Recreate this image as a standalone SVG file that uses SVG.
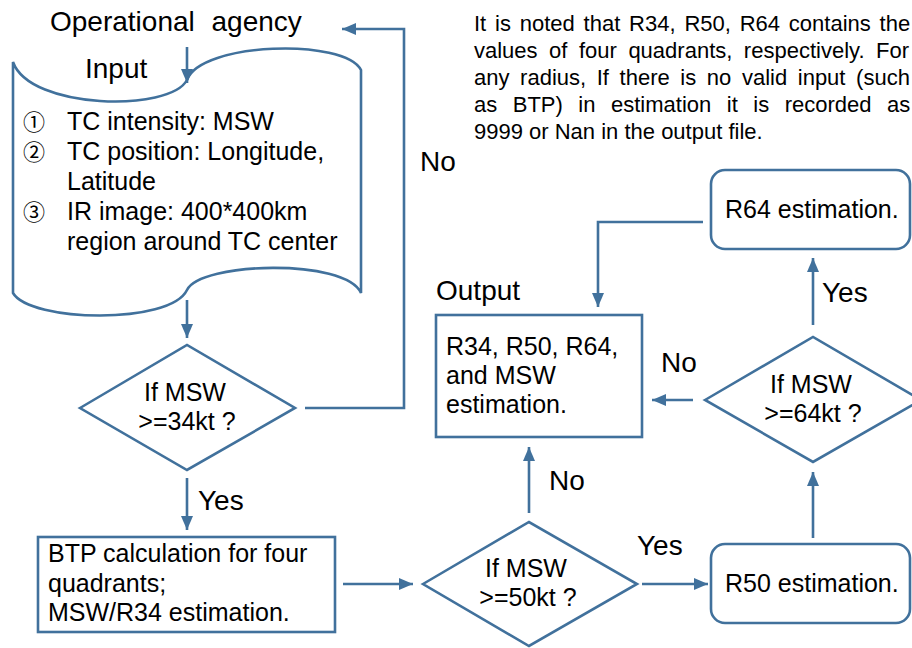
<svg xmlns="http://www.w3.org/2000/svg" width="912" height="648" viewBox="0 0 912 648">
<defs>
<style>
.s{fill:none;stroke:#41719C;stroke-width:2.6}
.b{fill:#fff;stroke:#41719C;stroke-width:2.6}
.c{fill:none;stroke:#41719C;stroke-width:2.6;marker-end:url(#ah)}
text{font-family:"Liberation Sans",Arial,sans-serif;fill:#000}
.big{font-size:28px}
.t{font-size:25px}
.l{font-size:25px}
.n{font-size:22px}
.cn{font-family:"Noto Sans CJK JP","DejaVu Sans",sans-serif;font-size:22px}
</style>
<marker id="ah" viewBox="0 0 14 12" refX="14" refY="6" markerWidth="14" markerHeight="12" markerUnits="userSpaceOnUse" orient="auto">
<path d="M0,0 L14,6 L0,12 z" fill="#41719C"/>
</marker>
</defs>
<rect width="912" height="648" fill="#fff"/>

<g id="agency">
<text class="big" x="50" y="31" word-spacing="9">Operational agency</text>
</g>

<g id="note">
<text class="n" x="474" y="31" word-spacing="2.7">It is noted that R34, R50, R64 contains the</text>
<text class="n" x="474" y="58" word-spacing="5.4">values of four quadrants, respectively. For</text>
<text class="n" x="474" y="85" word-spacing="4.5">any radius, If there is no valid input (such</text>
<text class="n" x="474" y="112" word-spacing="9.4">as BTP) in estimation it is recorded as</text>
<text class="n" x="474" y="139">9999 or Nan in the output file.</text>
</g>

<g id="input">
<path class="b" d="M13,62 C30,110 170,112 187,80 C200,42 345,38 361,70 L361,293 C345,258 200,262 187,290 C170,325 30,322 13,293 Z"/>
<text class="big" x="85" y="78">Input</text>
<text class="cn" x="23" y="130">①</text>
<text class="l" x="67" y="130">TC intensity: MSW</text>
<text class="cn" x="23" y="160">②</text>
<text class="l" x="67" y="160">TC position: Longitude,</text>
<text class="l" x="67" y="190">Latitude</text>
<text class="cn" x="23" y="220">③</text>
<text class="l" x="67" y="220">IR image: 400*400km</text>
<text class="l" x="67" y="250">region around TC center</text>
</g>

<g id="d34">
<polygon class="b" points="80,408 187,345 295,408 187,470"/>
<text class="t" x="185" y="401" text-anchor="middle">If MSW</text>
<text class="t" x="187" y="430" text-anchor="middle">&gt;=34kt ?</text>
</g>

<g id="btp">
<rect class="b" x="38" y="537" width="297" height="95"/>
<text class="t" x="48" y="562">BTP calculation for four</text>
<text class="t" x="48" y="592">quadrants;</text>
<text class="t" x="48" y="621">MSW/R34 estimation.</text>
</g>

<g id="d50">
<polygon class="b" points="423,584 529,522 637,584 529,646"/>
<text class="t" x="526" y="577" text-anchor="middle">If MSW</text>
<text class="t" x="528" y="606" text-anchor="middle">&gt;=50kt ?</text>
</g>

<g id="r50">
<rect class="b" x="711" y="544" width="199" height="79" rx="14"/>
<text class="t" x="725" y="592">R50 estimation.</text>
</g>

<g id="d64">
<polygon class="b" points="705,400 813,337 921,400 813,462"/>
<text class="t" x="811" y="393" text-anchor="middle">If MSW</text>
<text class="t" x="813" y="422" text-anchor="middle">&gt;=64kt ?</text>
</g>

<g id="r64">
<rect class="b" x="711" y="170" width="199" height="79" rx="14"/>
<text class="t" x="725" y="218">R64 estimation.</text>
</g>

<g id="output">
<text class="big" x="436" y="300">Output</text>
<rect class="b" x="436" y="315" width="206" height="122"/>
<text class="t" x="446" y="355">R34, R50, R64,</text>
<text class="t" x="446" y="384">and MSW</text>
<text class="t" x="446" y="413">estimation.</text>
</g>

<g id="connectors">
<path class="c" d="M187,47 V83"/>
<path class="c" d="M187,300 V338"/>
<path class="c" d="M305,408 H404 V29 H342"/>
<path class="c" d="M187,478 V530"/>
<path class="c" d="M343,584 H413"/>
<path class="c" d="M529,513 V447"/>
<path class="c" d="M642,584 H708"/>
<path class="c" d="M813,538 V472"/>
<path class="c" d="M693,400 H652"/>
<path class="c" d="M813,325 V258"/>
<path class="c" d="M703,222 H598 V307"/>
<text class="big" x="420" y="171">No</text>
<text class="big" x="198" y="510">Yes</text>
<text class="big" x="549" y="490">No</text>
<text class="big" x="637" y="555">Yes</text>
<text class="big" x="661" y="372">No</text>
<text class="big" x="822" y="302">Yes</text>
</g>
</svg>
